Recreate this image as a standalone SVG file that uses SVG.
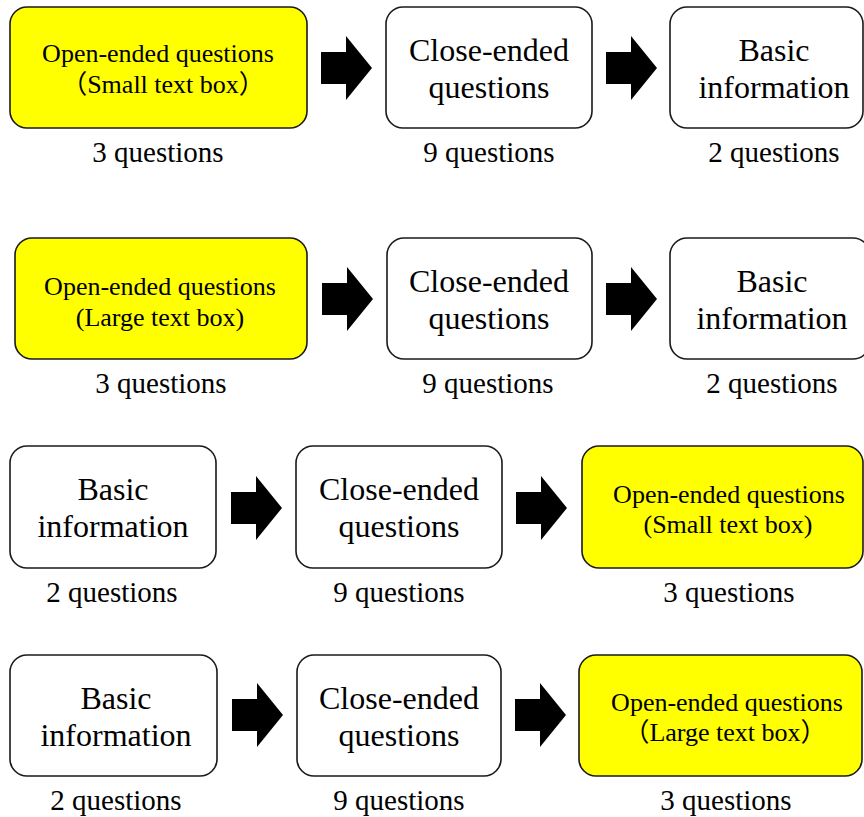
<svg xmlns="http://www.w3.org/2000/svg" width="864" height="817" viewBox="0 0 864 817">
<style>
.box{fill:#fff;stroke:#1a1a1a;stroke-width:1.6}
.yel{fill:#ffff00;stroke:#1a1a1a;stroke-width:1.6}
.big{font-family:"Liberation Serif","Noto Sans CJK JP",serif;font-size:32px;fill:#000;text-anchor:middle}
.mid{font-family:"Liberation Serif","Noto Sans CJK JP",serif;font-size:26px;fill:#000;text-anchor:middle}
.lbl{font-family:"Liberation Serif",serif;font-size:29px;fill:#000;text-anchor:middle}
.arr{fill:#000}
</style>
<defs>
<path id="ar" d="M0,-16 H25 V-32 L51,0 L25,32 V16 H0 Z"/>
</defs>
<g id="connectors">
<use href="#ar" class="arr" x="321" y="68"/>
<use href="#ar" class="arr" x="606" y="68"/>
<use href="#ar" class="arr" x="322" y="299"/>
<use href="#ar" class="arr" x="606" y="299"/>
<use href="#ar" class="arr" x="231" y="508"/>
<use href="#ar" class="arr" x="516" y="508"/>
<use href="#ar" class="arr" x="232" y="715"/>
<use href="#ar" class="arr" x="515" y="715"/>
</g>
<g id="r1n1"><rect class="yel" x="10" y="7" width="297" height="121" rx="17"/>
<text class="mid" x="158" y="62">Open-ended questions</text>
<text class="mid" x="163" y="93">（Small text box）</text>
<text class="lbl" x="158" y="162">3 questions</text></g>
<g id="r1n2"><rect class="box" x="386" y="7" width="206" height="121" rx="17"/>
<text class="big" x="489" y="61">Close-ended</text>
<text class="big" x="489" y="98">questions</text>
<text class="lbl" x="489" y="162">9 questions</text></g>
<g id="r1n3"><rect class="box" x="670" y="7" width="193" height="121" rx="17"/>
<text class="big" x="774" y="61">Basic</text>
<text class="big" x="774" y="98">information</text>
<text class="lbl" x="774" y="162">2 questions</text></g>

<g id="r2n1"><rect class="yel" x="15" y="238" width="292" height="121" rx="17"/>
<text class="mid" x="160" y="295">Open-ended questions</text>
<text class="mid" x="160" y="326">(Large text box)</text>
<text class="lbl" x="161" y="393">3 questions</text></g>
<g id="r2n2"><rect class="box" x="387" y="238" width="205" height="121" rx="17"/>
<text class="big" x="489" y="292">Close-ended</text>
<text class="big" x="489" y="329">questions</text>
<text class="lbl" x="488" y="393">9 questions</text></g>
<g id="r2n3"><rect class="box" x="670" y="238" width="200" height="121" rx="17"/>
<text class="big" x="772" y="292">Basic</text>
<text class="big" x="772" y="329">information</text>
<text class="lbl" x="772" y="393">2 questions</text></g>

<g id="r3n1"><rect class="box" x="10" y="446" width="206" height="122" rx="17"/>
<text class="big" x="113" y="500">Basic</text>
<text class="big" x="113" y="537">information</text>
<text class="lbl" x="112" y="602">2 questions</text></g>
<g id="r3n2"><rect class="box" x="296" y="446" width="206" height="122" rx="17"/>
<text class="big" x="399" y="500">Close-ended</text>
<text class="big" x="399" y="537">questions</text>
<text class="lbl" x="399" y="602">9 questions</text></g>
<g id="r3n3"><rect class="yel" x="582" y="446" width="281" height="122" rx="17"/>
<text class="mid" x="729" y="503">Open-ended questions</text>
<text class="mid" x="728" y="533">(Small text box)</text>
<text class="lbl" x="729" y="602">3 questions</text></g>

<g id="r4n1"><rect class="box" x="10" y="655" width="207" height="121" rx="17"/>
<text class="big" x="116" y="709">Basic</text>
<text class="big" x="116" y="746">information</text>
<text class="lbl" x="116" y="810">2 questions</text></g>
<g id="r4n2"><rect class="box" x="297" y="655" width="204" height="121" rx="17"/>
<text class="big" x="399" y="709">Close-ended</text>
<text class="big" x="399" y="746">questions</text>
<text class="lbl" x="399" y="810">9 questions</text></g>
<g id="r4n3"><rect class="yel" x="579" y="655" width="283" height="121" rx="17"/>
<text class="mid" x="727" y="711">Open-ended questions</text>
<text class="mid" x="725" y="741">（Large text box）</text>
<text class="lbl" x="726" y="810">3 questions</text></g>
</svg>
